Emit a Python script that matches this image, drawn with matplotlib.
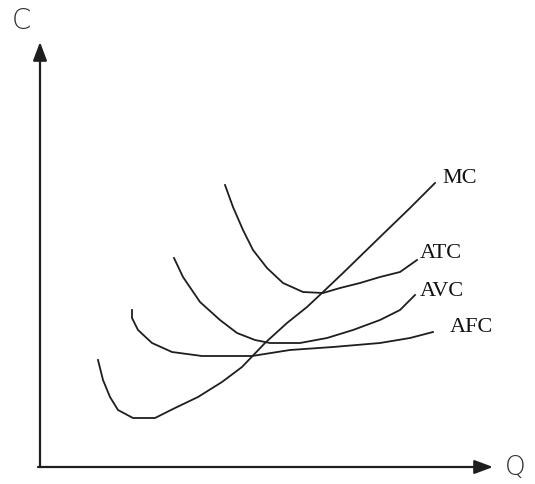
import matplotlib.pyplot as plt

# cost curves (Q = quantity, C = cost)
mc_q = [5.8, 6.3, 7.0, 7.8, 9.3, 11.5, 13.5, 15.8, 18.2, 20.2, 22.5, 24.7, 26.7, 28.3, 30.3, 34.0, 37.0, 39.5]
mc_c = [10.7, 8.7, 7.0, 5.7, 4.9, 4.9, 5.9, 7.0, 8.5, 10.0, 12.4, 14.4, 16.0, 17.5, 19.4, 23.0, 25.9, 28.4]

atc_q = [18.5, 19.3, 20.3, 21.3, 22.7, 24.3, 26.3, 28.3, 30.0, 32.0, 34.0, 36.0, 37.7]
atc_c = [28.2, 26.0, 23.7, 21.7, 19.9, 18.4, 17.5, 17.4, 17.9, 18.4, 19.0, 19.5, 20.7]

avc_q = [13.4, 14.3, 16.0, 18.0, 19.7, 21.5, 23.0, 26.0, 28.7, 31.3, 34.0, 36.0, 37.5]
avc_c = [20.9, 19.0, 16.5, 14.7, 13.4, 12.7, 12.4, 12.4, 12.9, 13.7, 14.7, 15.7, 17.2]

afc_q = [9.2, 9.2, 9.8, 11.2, 13.2, 16.2, 21.2, 25.0, 29.3, 34.0, 37.0, 39.3]
afc_c = [15.7, 14.9, 13.7, 12.4, 11.5, 11.1, 11.1, 11.7, 12.0, 12.4, 12.9, 13.5]

labels = ['MC', 'ATC', 'AVC', 'AFC']
label_pos = [(40.2, 28.9), (38.0, 21.4), (38.0, 17.5), (41.0, 13.9)]

fig = plt.figure(figsize=(5.35, 4.84), dpi=100)
ax = fig.add_axes([0, 0, 1, 1])
ax.set_xlim(-4.0, 49.5)
ax.set_ylim(-1.7, 46.7)
ax.axis('off')

ink = '#1e1e1e'
for q, c in [(mc_q, mc_c), (atc_q, atc_c), (avc_q, avc_c), (afc_q, afc_c)]:
    ax.plot(q, c, color=ink, lw=1.3, solid_joinstyle='round')

for text, (x, y) in zip(labels, label_pos):
    ax.text(x, y, text, fontsize=16, family='Liberation Serif', color='#111',
            ha='left', va='center')

# axes with arrow heads
arrow = dict(arrowstyle='-|>,head_length=0.8,head_width=0.3', color=ink, lw=1.6,
             shrinkA=0, shrinkB=0, mutation_scale=14)
ax.annotate('', xy=(0, 42.5), xytext=(0, 0), arrowprops=arrow)
ax.annotate('', xy=(45.3, 0), xytext=(-0.2, 0), arrowprops=arrow)

ax.text(-2.8, 44.6, 'C', fontsize=20, family='DejaVu Sans', fontweight='light',
        color='#333', ha='left', va='center')
ax.text(46.5, -0.1, 'Q', fontsize=19, family='DejaVu Sans', fontweight='light',
        color='#333', ha='left', va='center')

fig.savefig('out.png', dpi=100)
